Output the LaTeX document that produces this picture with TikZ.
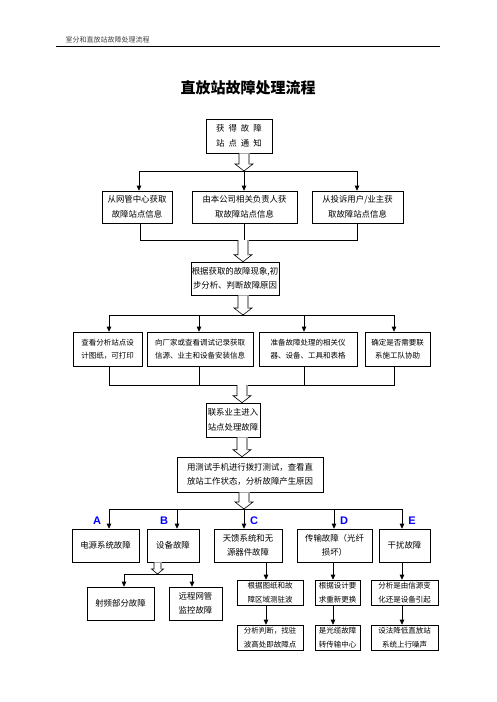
\documentclass[tikz,border=0pt]{standalone}
\usepackage{fontspec}
\setmainfont{Noto Sans CJK SC}
\newfontfamily\latinfont{Liberation Sans}
\usetikzlibrary{arrows.meta,calc}
\newcommand\gap{\hspace{4pt}}
\NewDocumentCommand\harrow{O{5} O{4} O{7} m m}{%
  \draw[fill=white,line width=0.6pt] let \p1=(#4), \p2=(#5) in
    (\x1-#1pt,\y1) -- (\x1-#1pt,\y2+#3pt) -- (\x1-#1pt-#2pt,\y2+#3pt) -- (\x1,\y2)
    -- (\x1+#1pt+#2pt,\y2+#3pt) -- (\x1+#1pt,\y2+#3pt) -- (\x1+#1pt,\y1);
  \draw[gray!75,line width=1.8pt] let \p1=(#4), \p2=(#5) in
    (\x1+#1pt,\y1) -- (\x1+#1pt,\y2+#3pt);
}
\begin{document}
\begin{tikzpicture}[x=1pt,y=-1pt,
  font=\fontsize{8.4}{14.5}\selectfont,
  box/.style={draw, inner sep=0pt, align=center, line width=0.6pt},
  sm/.style={font=\fontsize{7.5}{13.5}\selectfont},
  arr/.style={-{Triangle[length=5pt,width=4.5pt]}, line width=0.6pt},
  ln/.style={line width=0.6pt},
  lab/.style={font=\latinfont\bfseries\fontsize{11}{11}\selectfont, text=blue}]
\useasboundingbox (0,0) rectangle (496,702);

% header
\node[font=\fontsize{7}{8}\selectfont, text=black!75, anchor=west] (hdr) at (62,40) {室分和直放站故障处理流程};
\draw[line width=0.8pt] (56,46) -- (440,46);
\node[font=\bfseries\fontsize{15}{18}\selectfont] (title) at (248,88) {直放站故障处理流程};

% boxes
\node[box, minimum width=66pt, minimum height=34pt] (b1) at (239,136) {获\gap 得\gap 故\gap 障\\站\gap 点\gap 通\gap 知};

\node[box, minimum width=70pt, minimum height=32pt] (n21) at (137,207) {从网管中心获取\\故障站点信息};
\node[box, minimum width=105pt, minimum height=32pt] (n22) at (244.5,207) {由本公司相关负责人获\\取故障站点信息};
\node[box, minimum width=91pt, minimum height=32pt] (n23) at (357.5,207) {从投诉用户/业主获\\取故障站点信息};

\node[box, minimum width=88pt, minimum height=33pt] (n3) at (235,278.5) {根据获取的故障现象,初\\步分析、判断故障原因};

\node[box, sm, minimum width=69pt, minimum height=34pt] (n41) at (107.5,349) {查看分析站点设\\计图纸，可打印};
\node[box, sm, minimum width=106pt, minimum height=34pt] (n42) at (200,349) {向厂家或查看调试记录获取\\信源、业主和设备安装信息};
\node[box, sm, minimum width=98pt, minimum height=34pt] (n43) at (308,349) {准备故障处理的相关仪\\器、设备、工具和表格};
\node[box, sm, minimum width=65pt, minimum height=34pt] (n44) at (397.5,349) {确定是否需要联\\系施工队协助};

\node[box, minimum width=54pt, minimum height=34pt] (n5) at (233,420) {联系业主进入\\站点处理故障};
\node[box, minimum width=146pt, minimum height=35pt] (n6) at (250,474.5) {用测试手机进行拨打测试，查看直\\放站工作状态，分析故障产生原因};

\node[box, minimum width=67pt, minimum height=33pt] (n71) at (105.5,545.5) {电源系统故障};
\node[box, minimum width=52pt, minimum height=33pt] (n72) at (173,545.5) {设备故障};
\node[box, minimum width=68pt, minimum height=33pt] (n73) at (248,545.5) {天馈系统和无\\源器件故障};
\node[box, minimum width=75pt, minimum height=33pt] (n74) at (334.5,545.5) {传输故障（光纤\\损坏）};
\node[box, minimum width=51pt, minimum height=33pt] (n75) at (404.5,545.5) {干扰故障};

\node[lab] (la) at (97,521) {A};
\node[lab] (lb) at (164,521) {B};
\node[lab] (lc) at (254,521) {C};
\node[lab] (ld) at (344,521) {D};
\node[lab] (le) at (412,521) {E};

\node[box, minimum width=67pt, minimum height=33pt] (n81) at (120.5,603.5) {射频部分故障};
\node[box, minimum width=53pt, minimum height=33pt] (n82) at (195.5,603.5) {远程网管\\监控故障};

\node[box, sm, minimum width=66pt, minimum height=25pt] (n91) at (270,592.5) {根据图纸和故\\障区域测驻波};
\node[box, sm, minimum width=45pt, minimum height=25pt] (n92) at (337.5,592.5) {根据设计要\\求重新更换};
\node[box, sm, minimum width=67pt, minimum height=25pt] (n93) at (404.5,592.5) {分析是由信源变\\化还是设备引起};

\node[box, sm, minimum width=66pt, minimum height=25pt] (n101) at (270,637.5) {分析判断，找驻\\波高处即故障点};
\node[box, sm, minimum width=45pt, minimum height=25pt] (n102) at (337.5,637.5) {是光缆故障\\转传输中心};
\node[box, sm, minimum width=67pt, minimum height=25pt] (n103) at (404.5,637.5) {设法降低直放站\\系统上行噪声};

% junction 1
\coordinate (j1a) at (139,171); \coordinate (j1) at (244,171); \coordinate (j1c) at (357,171);
\draw[ln] (j1a) -- (j1c);
\draw[arr] (j1a) -- (j1a |- n21.north);
\draw[arr] (j1) -- (j1 |- n22.north);
\draw[arr] (j1c) -- (j1c |- n23.north);
\harrow{j1 |- b1.south}{j1}

% junction 2
\coordinate (j2a) at (140,240); \coordinate (j2) at (244,240); \coordinate (j2c) at (357,240);
\coordinate (h2) at (243,240);
\draw[ln] (j2a |- n21.south) -- (j2a) -- (j2c) -- (j2c |- n23.south);
\draw[ln] (j2 |- n22.south) -- (j2);
\harrow{h2}{h2 |- n3.north}

% junction 3
\coordinate (j3) at (243,315);
\coordinate (j3a) at (109,315); \coordinate (j3b) at (199,315); \coordinate (j3c) at (304,315); \coordinate (j3d) at (394,315);
\draw[ln] (j3a) -- (j3d);
\draw[arr] (j3a) -- (j3a |- n41.north);
\draw[arr] (j3b) -- (j3b |- n42.north);
\draw[arr] (j3c) -- (j3c |- n43.north);
\draw[arr] (j3d) -- (j3d |- n44.north);
\harrow{j3 |- n3.south}{j3}

% junction 4
\coordinate (j4a) at (109,385); \coordinate (j4b) at (199,385); \coordinate (j4c) at (304,385); \coordinate (j4d) at (394,385);
\coordinate (h4) at (242,385);
\draw[ln] (j4a |- n41.south) -- (j4a) -- (j4d) -- (j4d |- n44.south);
\draw[ln] (j4b |- n42.south) -- (j4b);
\draw[ln] (j4c |- n43.south) -- (j4c);
\harrow{h4}{h4 |- n5.north}

% n5 -> n6
\coordinate (h5) at (242,450);
\harrow{h5 |- n5.south}{h5 |- n6.north}

% junction 6
\coordinate (j6a) at (109,509); \coordinate (j6b) at (177,509); \coordinate (j6) at (244,509);
\coordinate (j6d) at (334,509); \coordinate (j6e) at (402,509);
\draw[ln] (j6a) -- (j6e);
\draw[arr] (j6a) -- (j6a |- n71.north);
\draw[arr] (j6b) -- (j6b |- n72.north);
\draw[arr] (j6) -- (j6 |- n73.north);
\draw[arr] (j6d) -- (j6d |- n74.north);
\draw[arr] (j6e) -- (j6e |- n75.north);
\harrow{j6 |- n6.south}{j6}

% equipment fault branch
\coordinate (h7) at (157.5,574);
\coordinate (j7a) at (124,574); \coordinate (j7b) at (192,574);
\draw[ln] (j7a) -- (j7b);
\draw[arr] (j7a) -- (j7a |- n81.north);
\draw[arr] (j7b) -- (j7b |- n82.north);
\harrow[3.5][2.5][5]{h7 |- n72.south}{h7}

% right column
\coordinate (k1) at (266,0); \coordinate (k2) at (333,0); \coordinate (k3) at (402,0);
\draw[arr] (k1 |- n73.south) -- (k1 |- n91.north);
\draw[arr] (k2 |- n74.south) -- (k2 |- n92.north);
\draw[arr] (k3 |- n75.south) -- (k3 |- n93.north);
\draw[arr] (k1 |- n91.south) -- (k1 |- n101.north);
\draw[arr] (k2 |- n92.south) -- (k2 |- n102.north);
\draw[arr] (k3 |- n93.south) -- (k3 |- n103.north);
\end{tikzpicture}
\end{document}
